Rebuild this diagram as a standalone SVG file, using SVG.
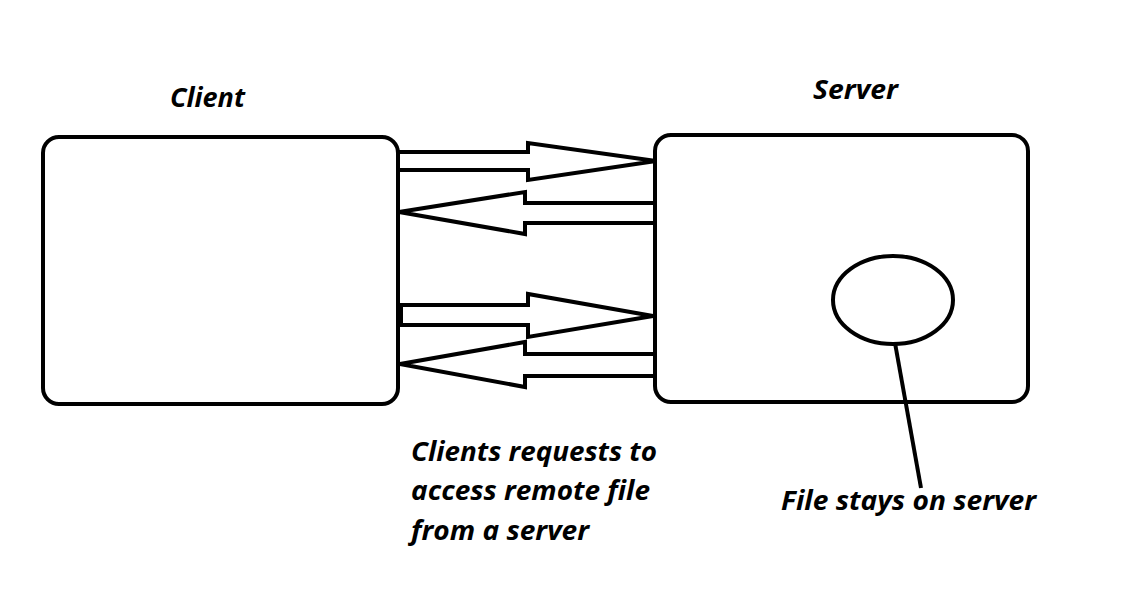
<svg xmlns="http://www.w3.org/2000/svg" width="1140" height="610" viewBox="0 0 1140 610">
<style>
.box{fill:#fff;stroke:#000;stroke-width:4}
.arr{fill:none;stroke:#000;stroke-width:4;stroke-linejoin:miter}
.lbl{font-family:"Open Sans",sans-serif;font-weight:bold;font-style:italic;font-size:26px;fill:#000}
</style>
<rect width="1140" height="610" fill="#fff"/>
<g id="client">
<rect class="box" x="43" y="137" width="355" height="267" rx="16"/>
<text class="lbl" x="170" y="107" textLength="75" lengthAdjust="spacingAndGlyphs">Client</text>
</g>
<g id="server">
<rect class="box" x="655" y="135" width="373" height="267" rx="16"/>
<text class="lbl" x="813" y="99" textLength="85" lengthAdjust="spacingAndGlyphs">Server</text>
</g>
<g id="file">
<ellipse class="box" cx="893" cy="300" rx="60" ry="44"/>
<text class="lbl" x="781" y="510" textLength="255" lengthAdjust="spacingAndGlyphs">File stays on server</text>
</g>
<g id="note">
<text class="lbl" x="411" y="461" textLength="246" lengthAdjust="spacingAndGlyphs">Clients requests to</text>
<text class="lbl" x="411" y="500" textLength="239" lengthAdjust="spacingAndGlyphs">access remote file</text>
<text class="lbl" x="411" y="540" textLength="178" lengthAdjust="spacingAndGlyphs">from a server</text>
</g>
<g id="connectors">
<polyline class="arr" points="398,152 528,152 528,143 656,161 528,180 528,170 398,170"/>
<polyline class="arr" points="655,203 525,203 525,192 399,212 525,234 525,223 655,223"/>
<polygon class="arr" points="401,305 528,305 528,294 653,316 528,337 528,325 401,325"/>
<polyline class="arr" points="655,354 525,354 525,342 400,364 525,387 525,376 655,376"/>
<line class="arr" x1="895" y1="343" x2="921" y2="488"/>
</g>
</svg>
